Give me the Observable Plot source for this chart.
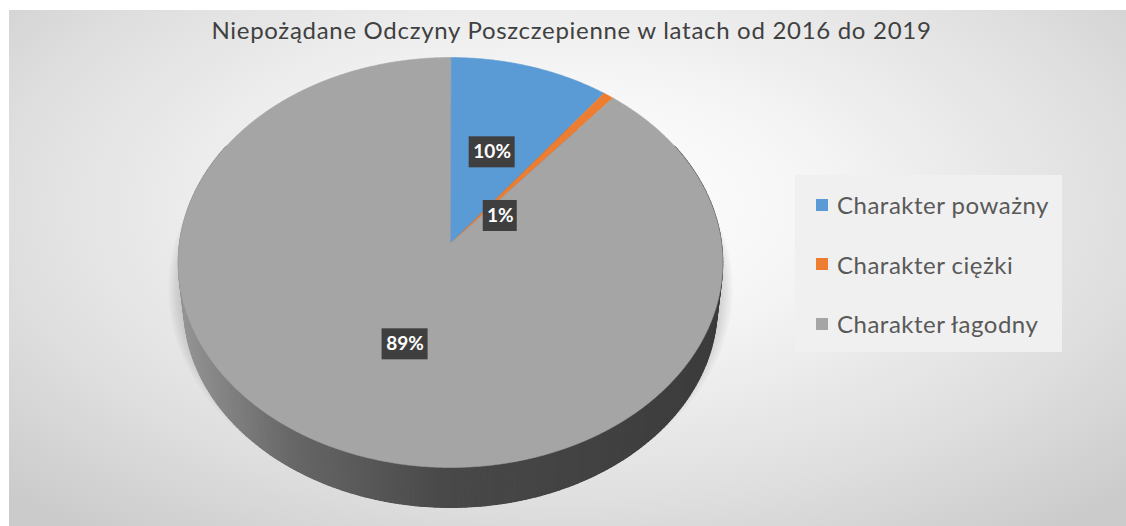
<!DOCTYPE html>
<html>
<head>
<meta charset="utf-8">
<script src="https://cdn.jsdelivr.net/npm/d3@7"></script>
<script src="https://cdn.jsdelivr.net/npm/@observablehq/plot@0.6"></script>
<style>
  html, body { margin: 0; padding: 0; background: #ffffff; }
  body { position: relative; width: 1126px; height: 526px; overflow: hidden; font-family: Lato, "Open Sans", sans-serif; }
  #bg { position: absolute; left: 9px; top: 10px; width: 1117px; height: 516px;
        background: radial-gradient(ellipse 70% 80% at 50% 38%, #ffffff 0%, #f6f6f6 30%, #e0e0e0 70%, #cbcbcb 100%); }
  #title { position: absolute; left: 13px; width: 1117px; top: 15px; text-align: center;
           font-size: 24px; letter-spacing: 0.7px; color: #404040; white-space: nowrap; }
  #legend { position: absolute; left: 795px; top: 175px; width: 267px; height: 177px; background: #f0f0f0;
            box-sizing: border-box; padding-top: 0px; }
  .item { height: 59.5px; display: flex; align-items: center; padding-left: 21px; font-size: 24px; letter-spacing: 0.5px; color: #595959; }
  .sw { width: 12px; height: 12px; margin-right: 9px; flex: none; }
  #plot { position: absolute; left: 0; top: 0; }
</style>
</head>
<body>
<div id="bg"></div>
<div id="plot"></div>
<div id="title"></div>
<div id="legend"></div>
<script>
// ---- data ----
const title = "Niepożądane Odczyny Poszczepienne w latach od 2016 do 2019";
const categories = ["Charakter poważny", "Charakter ciężki", "Charakter łagodny"];
const shares = [10.4, 0.7, 88.9];
const colors = ["#5B9BD5", "#ED7D31", "#A5A5A5"];

// ---- layout (pixel space of the 1126x526 picture) ----
const W = 1126, H = 526;
const cx = 450, apexY = 243;            // projected pie centre
const a = 271, c = 203.2, k = 0.0927;   // perspective projection of the pie disc
const depthShift = 44, depthScale = 0.98;
const labelRadius = 0.5;
const labelNudge = [[0, 1], [-32, 49], [3, 1]];
const sideShade = d3.scaleLinear().domain([180, 290, 440, 720])
  .range(["#949494", "#676767", "#494949", "#3c3c3c"]).clamp(true);

function proj(deg, f = 1) {
  const t = deg * Math.PI / 180, u = f * Math.sin(t), v = f * Math.cos(t), w = 1 + k * v;
  return [cx + a * u / w, apexY - c * v / w];
}
const ellCy = (proj(0)[1] + proj(180)[1]) / 2;
function bottom(deg, grow = 0, shift = depthShift) {
  const [x, y] = proj(deg);
  const dx = x - cx, dy = y - ellCy, r = Math.hypot(dx, dy) || 1;
  return [cx + dx * depthScale + grow * dx / r, ellCy + dy * depthScale + shift + grow * dy / r];
}

const total = d3.sum(shares);
let acc = 0;
const slices = shares.map((s, i) => {
  const a0 = acc / total * 360; acc += s; const a1 = acc / total * 360;
  return {name: categories[i], color: colors[i], a0, a1, share: s};
});

// top face polygons
const slicePts = [];
for (const sl of slices) {
  slicePts.push({name: sl.name, color: sl.color, x: cx, y: apexY});
  const n = Math.max(2, Math.ceil((sl.a1 - sl.a0) / 0.5));
  for (let j = 0; j <= n; j++) {
    const [x, y] = proj(sl.a0 + (sl.a1 - sl.a0) * j / n);
    slicePts.push({name: sl.name, color: sl.color, x, y});
  }
}

// side wall: dark base disc + shaded strips between the top rim and the bottom rim
const basePts = d3.range(0, 360, 1).map(d => { const [x, y] = bottom(d); return {part: "base", x, y}; });
const sidePts = [];
const step = 1;
for (let t0 = 60; t0 < 300; t0 += step) {
  const t1 = t0 + step, id = "w" + t0;
  const col = sideShade(proj(t0 + step / 2)[0]);
  const pts = [proj(t0), proj(t1), bottom(t1), bottom(t0)];
  for (const [x, y] of pts) sidePts.push({part: id, color: col, x, y});
}

// soft halo under the pie
const shadowPts = d3.range(1, 8).flatMap(g =>
  d3.range(0, 360, 2).map(d => { const [x, y] = bottom(d, g * 2.2, depthShift * 0.6); return {part: "s" + g, x, y}; }));

// labels
const labelData = slices.map((sl, i) => {
  const [x, y] = proj((sl.a0 + sl.a1) / 2, labelRadius);
  const text = Math.round(sl.share / total * 100) + "%";
  const bw = 12 * text.length + 10, bh = 31;
  const lx = x + labelNudge[i][0], ly = y + labelNudge[i][1];
  return {x: lx, y: ly, text, x1: lx - bw / 2, x2: lx + bw / 2, y1: ly - bh / 2, y2: ly + bh / 2};
});

const plot = Plot.plot({
  width: W, height: H,
  margin: 0,
  style: {background: "transparent", overflow: "visible"},
  x: {domain: [0, W], range: [0, W], axis: null},
  y: {domain: [0, H], range: [0, H], axis: null},
  color: {type: "identity"},
  marks: [
    Plot.line(shadowPts, {x: "x", y: "y", z: "part", fill: "#000", fillOpacity: 0.022, stroke: "none", curve: "linear-closed"}),
    Plot.line(basePts, {x: "x", y: "y", z: "part", fill: "#474747", stroke: "none", curve: "linear-closed"}),
    Plot.line(sidePts, {x: "x", y: "y", z: "part", fill: "color", stroke: "color", strokeWidth: 1.2, curve: "linear-closed"}),
    Plot.line(slicePts, {x: "x", y: "y", z: "name", fill: "color", stroke: "color", strokeWidth: 0.6, curve: "linear-closed"}),
    Plot.rect(labelData, {x1: "x1", x2: "x2", y1: "y1", y2: "y2", fill: "#3f3f3f"}),
    Plot.text(labelData, {x: "x", y: "y", text: "text", fill: "white", fontWeight: "bold", fontSize: 19, fontFamily: "Lato, sans-serif"})
  ]
});

document.getElementById("plot").appendChild(plot);
document.getElementById("title").textContent = title;

const legend = d3.select("#legend");
categories.forEach((name, i) => {
  const row = legend.append("div").attr("class", "item");
  row.append("span").attr("class", "sw").style("background", colors[i]);
  row.append("span").text(name);
});
</script>
</body>
</html>
